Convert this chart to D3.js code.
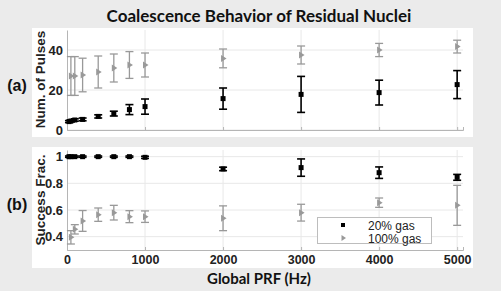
<!DOCTYPE html>
<html>
<head>
<meta charset="utf-8">
<script src="https://cdn.jsdelivr.net/npm/d3@7"></script>
<style>
  html, body { margin: 0; padding: 0; background: #ebebeb; }
  svg { display: block; }
  .tick text { font-family: "Liberation Sans", Arial, sans-serif; font-weight: bold; fill: #222; }
</style>
</head>
<body>
<svg id="chart" width="501" height="291"></svg>
<script>
// PRF values (Hz)
const prf20 = [25, 50, 100, 200, 400, 600, 800, 1000, 2000, 3000, 4000, 5000];
const prf100 = [50, 100, 200, 400, 600, 800, 1000, 2000, 3000, 4000, 5000];

// (a) number of pulses
const pulses20 = [4.2, 4.5, 5.0, 5.3, 6.8, 8.2, 10.2, 11.7, 15.7, 17.8, 18.7, 22.7];
const pulses20Err = [0.5, 0.5, 0.6, 0.7, 0.8, 1.2, 2.5, 3.8, 5.3, 9.0, 6.2, 7.0];
const pulses100 = [27.0, 27.0, 27.5, 29.0, 31.0, 32.5, 32.5, 35.8, 37.5, 40.0, 41.7];
const pulses100Err = [9.7, 9.7, 8.4, 8.0, 7.0, 6.7, 6.0, 4.7, 4.5, 3.3, 3.2];

// (b) success fraction
const frac20 = [1.0, 1.0, 1.0, 1.0, 1.0, 1.0, 1.0, 0.995, 0.908, 0.918, 0.88, 0.845];
const frac20Err = [0.005, 0.005, 0.005, 0.005, 0.005, 0.005, 0.005, 0.008, 0.013, 0.065, 0.043, 0.022];
const frac100 = [0.395, 0.455, 0.518, 0.565, 0.58, 0.55, 0.55, 0.538, 0.58, 0.655, 0.635];
const frac100Err = [0.05, 0.035, 0.078, 0.05, 0.055, 0.045, 0.043, 0.093, 0.063, 0.035, 0.15];

const xTicks = [0, 1000, 2000, 3000, 4000, 5000];
const yTicksA = [0, 20, 40];
const yTicksB = [0.4, 0.6, 0.8, 1];
const legendLabels = ["20% gas", "100% gas"];

const svg = d3.select("#chart");
const cBlack = "#000";
const cGray = "#999";

const x = d3.scaleLinear().domain([0, 5075]).range([67, 463]);

function drawPanel(cfg) {
  const y = d3.scaleLinear().domain(cfg.yDomain).range(cfg.yRange);
  const g = svg.append("g");

  g.append("rect")
    .attr("x", 32).attr("y", cfg.bg[0])
    .attr("width", 441).attr("height", cfg.bg[1] - cfg.bg[0])
    .attr("fill", "#fff");

  // grid
  g.append("g").selectAll("line").data(xTicks.filter(d => d > 0)).join("line")
    .attr("x1", d => x(d)).attr("x2", d => x(d))
    .attr("y1", cfg.yRange[1]).attr("y2", cfg.yRange[0])
    .attr("stroke", "#e8e8e8");
  g.append("g").selectAll("line").data(cfg.yTicks).join("line")
    .attr("x1", x.range()[0]).attr("x2", x.range()[1])
    .attr("y1", d => y(d)).attr("y2", d => y(d))
    .attr("stroke", "#e8e8e8");

  // axes
  const yAxis = g.append("g")
    .attr("transform", `translate(${x.range()[0]},0)`)
    .call(d3.axisLeft(y).tickValues(cfg.yTicks).tickSize(0).tickPadding(4).tickFormat(d3.format("~g")));
  yAxis.select(".domain").attr("stroke", "#b5b5b5");
  yAxis.selectAll(".tick text").attr("font-size", 13);

  const xAxis = g.append("g")
    .attr("transform", `translate(0,${cfg.yRange[0]})`)
    .call(d3.axisBottom(x).tickValues(xTicks).tickSize(-3).tickPadding(5).tickFormat(d3.format("d")));
  xAxis.select(".domain").attr("stroke", "#b5b5b5");
  xAxis.selectAll(".tick line").attr("stroke", "#b5b5b5");
  xAxis.selectAll(".tick text").attr("font-size", 12.5);
  if (!cfg.showX) xAxis.selectAll(".tick text").remove();

  // series
  const series = [
    { xs: prf100, ys: cfg.v100, es: cfg.e100, color: cGray, shape: "tri", w: 1.3 },
    { xs: prf20, ys: cfg.v20, es: cfg.e20, color: cBlack, shape: "sq", w: 1.6 }
  ];
  series.forEach(s => {
    const pts = s.xs.map((d, i) => ({ x: d, y: s.ys[i], e: s.es[i] }));
    const eg = g.append("g").attr("stroke", s.color).attr("stroke-width", s.w).attr("fill", "none");
    eg.selectAll(".v").data(pts).join("line")
      .attr("x1", d => x(d.x)).attr("x2", d => x(d.x))
      .attr("y1", d => y(d.y - d.e)).attr("y2", d => y(d.y + d.e));
    [-1, 1].forEach(sgn => {
      eg.selectAll(".c" + sgn).data(pts).join("line")
        .attr("x1", d => x(d.x) - 4).attr("x2", d => x(d.x) + 4)
        .attr("y1", d => y(d.y + sgn * d.e)).attr("y2", d => y(d.y + sgn * d.e));
    });
    const mg = g.append("g").attr("fill", s.color);
    if (s.shape === "sq") {
      mg.selectAll("rect").data(pts).join("rect")
        .attr("x", d => x(d.x) - 2.5).attr("y", d => y(d.y) - 2.5)
        .attr("width", 5).attr("height", 5);
    } else {
      mg.selectAll("path").data(pts).join("path")
        .attr("d", d => `M${x(d.x) - 2},${y(d.y) - 3.5}L${x(d.x) + 3.5},${y(d.y)}L${x(d.x) - 2},${y(d.y) + 3.5}Z`);
    }
  });

  // labels
  svg.append("text")
    .attr("transform", `translate(45,${cfg.labelY}) rotate(-90)`)
    .attr("text-anchor", "middle")
    .attr("font-family", "Liberation Sans, Arial, sans-serif")
    .attr("font-weight", "bold").attr("font-size", 13.5).attr("fill", "#222")
    .text(cfg.ylabel);
  svg.append("text")
    .attr("x", 17).attr("y", cfg.tagY)
    .attr("text-anchor", "middle")
    .attr("font-family", "Liberation Sans, Arial, sans-serif")
    .attr("font-weight", "bold").attr("font-size", 16).attr("fill", "#111")
    .text(cfg.tag);
  return { g, y };
}

drawPanel({
  yDomain: [0, 50], yRange: [130, 30], bg: [28, 137], yTicks: yTicksA,
  v20: pulses20, e20: pulses20Err, v100: pulses100, e100: pulses100Err,
  showX: false, ylabel: "Num. of Pulses", labelY: 79.5, tag: "(a)", tagY: 91
});

drawPanel({
  yDomain: [0.3, 1.05], yRange: [250, 150], bg: [147, 268], yTicks: yTicksB,
  v20: frac20, e20: frac20Err, v100: frac100, e100: frac100Err,
  showX: true, ylabel: "Success Frac.", labelY: 200, tag: "(b)", tagY: 210
});

// legend
const lg = svg.append("g");
lg.append("rect").attr("x", 317.5).attr("y", 217.5).attr("width", 114).attr("height", 26)
  .attr("fill", "#fff").attr("stroke", "#bdbdbd");
legendLabels.forEach((t, i) => {
  const ly = 225 + i * 13;
  if (i === 0) {
    lg.append("rect").attr("x", 341).attr("y", ly - 2).attr("width", 4).attr("height", 4).attr("fill", cBlack);
  } else {
    lg.append("path").attr("d", `M341.5,${ly - 3}L346,${ly}L341.5,${ly + 3}Z`).attr("fill", cGray);
  }
  lg.append("text").attr("x", 368).attr("y", ly + 4.5)
    .attr("font-family", "Liberation Sans, Arial, sans-serif")
    .attr("font-size", 12).attr("fill", "#222").text(t);
});

// titles
svg.append("text")
  .attr("x", 259).attr("y", 22).attr("text-anchor", "middle")
  .attr("font-family", "Lato, Open Sans, sans-serif").attr("font-weight", "bold")
  .attr("font-size", 17).attr("fill", "#111")
  .text("Coalescence Behavior of Residual Nuclei");
svg.append("text")
  .attr("x", 259).attr("y", 284).attr("text-anchor", "middle")
  .attr("font-family", "Lato, Open Sans, sans-serif").attr("font-weight", "bold")
  .attr("font-size", 15).attr("fill", "#111")
  .text("Global PRF (Hz)");
</script>
</body>
</html>
